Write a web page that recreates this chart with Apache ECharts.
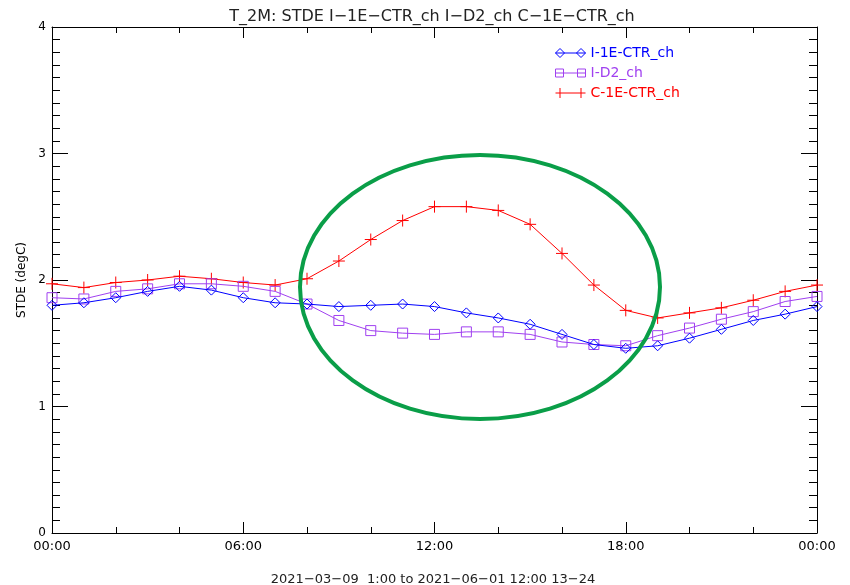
<!DOCTYPE html>
<html>
<head>
<meta charset="utf-8">
<script src="https://cdn.jsdelivr.net/npm/echarts@6/dist/echarts.min.js"></script>
<style>
  html, body { margin: 0; padding: 0; background: #fff; }
  #chart { width: 850px; height: 585px; }
</style>
</head>
<body>
<div id="chart"></div>
<script>
// ========================================
// DATA (hourly, 00:00 .. 24:00)
// ========================================
var hours = [0, 1, 2, 3, 4, 5, 6, 7, 8, 9, 10, 11, 12, 13, 14, 15, 16, 17, 18, 19, 20, 21, 22, 23, 24];

var i1eCtr = [1.80, 1.82, 1.86, 1.91, 1.95, 1.92, 1.86, 1.82, 1.81, 1.79, 1.80, 1.81, 1.79, 1.74, 1.70, 1.65, 1.57, 1.49, 1.46, 1.48, 1.54, 1.61, 1.68, 1.73, 1.79];
var iD2 = [1.86, 1.85, 1.91, 1.93, 1.97, 1.97, 1.95, 1.91, 1.81, 1.68, 1.60, 1.58, 1.57, 1.59, 1.59, 1.57, 1.51, 1.49, 1.48, 1.56, 1.62, 1.69, 1.75, 1.83, 1.87];
var c1eCtr = [1.97, 1.94, 1.98, 2.00, 2.03, 2.01, 1.98, 1.96, 2.01, 2.15, 2.32, 2.47, 2.58, 2.58, 2.55, 2.44, 2.21, 1.96, 1.76, 1.70, 1.74, 1.78, 1.84, 1.91, 1.96];

var seriesNames = ['I-1E-CTR_ch', 'I-D2_ch', 'C-1E-CTR_ch'];
var xTickLabels = ['00:00', '06:00', '12:00', '18:00', '00:00'];

var titleText = 'T_2M: STDE I\u22121E\u2212CTR_ch I\u2212D2_ch C\u22121E\u2212CTR_ch';
var footText = '2021\u221203\u221209  1:00 to 2021\u221206\u221201 12:00 13\u221224';

// ========================================
// STYLE
// ========================================
var FONT = 'DejaVu Sans';
var colors = ['#0000ff', '#a040f0', '#ff0000'];
var symbols = ['diamond', 'rect', 'path://M0,6L12,6M6,0L6,12'];
var symbolSizes = [10, 10, 12];
var legendIcons = [
  'path://M0,5L4.5,0.5L9,5L4.5,9.5Z M21,5L25.5,0.5L30,5L25.5,9.5Z M0,5L30,5',
  'path://M0,1L8,1L8,9L0,9Z M22,1L30,1L30,9L22,9Z M0,5L30,5',
  'path://M0,5L30,5 M4.5,0L4.5,10 M25.5,0L25.5,10'
];

function toPairs(values) {
  return values.map(function (v, i) { return [hours[i], v]; });
}

function hourLabel(v) {
  var idx = Math.round(v / 6);
  return xTickLabels[idx] || '';
}

var seriesData = [i1eCtr, iD2, c1eCtr];

var series = seriesData.map(function (values, i) {
  return {
    name: seriesNames[i],
    type: 'line',
    data: toPairs(values),
    symbol: symbols[i],
    symbolSize: symbolSizes[i],
    showAllSymbol: true,
    lineStyle: { color: colors[i], width: 1 },
    itemStyle: { color: 'transparent', borderColor: colors[i], borderWidth: 1 },
    emphasis: { disabled: true },
    animation: false,
    z: 3 - i
  };
});

// frame axis: line + inward ticks, no labels, never snapped to zero
function tickAxis(extra) {
  var base = {
    axisLine: { show: true, onZero: false, lineStyle: { color: '#000', width: 1 } },
    splitLine: { show: false },
    axisLabel: { show: false }
  };
  return Object.assign(base, extra);
}

var chart = echarts.init(document.getElementById('chart'), null, { renderer: 'canvas' });

chart.setOption({
  backgroundColor: '#fff',
  animation: false,
  title: [{
    text: titleText,
    left: 427, top: 4, textAlign: 'center',
    textStyle: { fontFamily: FONT, fontSize: 16, fontWeight: 'normal', color: '#222' }
  }, {
    text: footText,
    left: 428, top: 568, textAlign: 'center',
    textStyle: { fontFamily: FONT, fontSize: 13, fontWeight: 'normal', color: '#222' }
  }],
  grid: { left: 52, right: 33, top: 27, bottom: 52, containLabel: false },
  legend: {
    orient: 'vertical',
    left: 550, top: 41,
    itemWidth: 30, itemHeight: 10, itemGap: 6,
    selectedMode: false,
    data: seriesNames.map(function (n, i) {
      return {
        name: n,
        icon: legendIcons[i],
        itemStyle: { color: 'transparent', borderColor: colors[i], borderWidth: 1 },
        textStyle: { color: colors[i] }
      };
    }),
    textStyle: { fontFamily: FONT, fontSize: 14 }
  },
  xAxis: [
    tickAxis({
      type: 'value', min: 0, max: 24, interval: 6, position: 'bottom',
      axisTick: { show: true, inside: true, length: 11, lineStyle: { color: '#000' } },
      minorTick: { show: true, splitNumber: 3, length: 6, lineStyle: { color: '#000' } },
      axisLabel: {
        show: true, margin: 7, color: '#000',
        fontFamily: FONT, fontSize: 13,
        formatter: hourLabel
      }
    }),
    tickAxis({
      type: 'value', min: 0, max: 24, interval: 6, position: 'top',
      axisTick: { show: true, inside: true, length: 11, lineStyle: { color: '#000' } },
      minorTick: { show: true, splitNumber: 3, length: 6, lineStyle: { color: '#000' } }
    })
  ],
  yAxis: [
    tickAxis({
      type: 'value', min: 0, max: 4, interval: 1, position: 'left',
      name: 'STDE (degC)', nameLocation: 'middle', nameGap: 9, nameRotate: 90,
      nameTextStyle: { fontFamily: FONT, fontSize: 12, color: '#000' },
      axisTick: { show: true, inside: true, length: 16, lineStyle: { color: '#000' } },
      minorTick: { show: true, splitNumber: 10, length: 8, lineStyle: { color: '#000' } },
      axisLabel: { show: true, margin: 6, color: '#000', fontFamily: FONT, fontSize: 12 }
    }),
    tickAxis({
      type: 'value', min: 0, max: 4, interval: 1, position: 'right',
      axisTick: { show: true, inside: true, length: 16, lineStyle: { color: '#000' } },
      minorTick: { show: true, splitNumber: 10, length: 8, lineStyle: { color: '#000' } }
    })
  ],
  series: series,
  // hand-drawn green highlight ellipse (annotation on the picture)
  graphic: [{
    type: 'ellipse',
    shape: { cx: 480, cy: 287, rx: 180, ry: 132 },
    style: { fill: 'none', stroke: '#0a9e48', lineWidth: 4 },
    silent: true,
    z: 100
  }]
});
</script>
</body>
</html>
